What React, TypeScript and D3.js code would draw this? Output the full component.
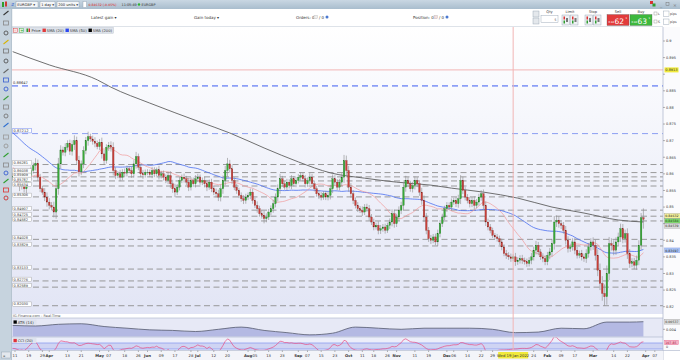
import React from 'react';
import * as d3 from 'd3';

// EUR/GBP daily closes, one array per month
const mar21 = [0.8592,0.8585,0.8575,0.8562,0.8570,0.8555,0.8578,0.8595,0.8610,0.8625,0.8632,0.8590,0.8555,0.8545,0.8530,0.8515];
const apr21 = [0.8505,0.8500,0.8485,0.8555,0.8630,0.8672,0.8665,0.8680,0.8692,0.8668,0.8688,0.8700,0.8640,0.8606,0.8630,0.8670,0.8700,0.8712,0.8705,0.8698,0.8692,0.8682];
const may21 = [0.8695,0.8660,0.8640,0.8680,0.8685,0.8680,0.8610,0.8595,0.8600,0.8590,0.8605,0.8602,0.8615,0.8610,0.8600,0.8630,0.8652,0.8620,0.8600,0.8597,0.8605];
const jun21 = [0.8605,0.8598,0.8610,0.8600,0.8612,0.8595,0.8600,0.8590,0.8580,0.8595,0.8570,0.8555,0.8545,0.8560,0.8580,0.8590,0.8585,0.8575,0.8560,0.8580,0.8570,0.8585];
const jul21 = [0.8590,0.8575,0.8580,0.8570,0.8560,0.8575,0.8555,0.8545,0.8540,0.8530,0.8555,0.8580,0.8610,0.8630,0.8615,0.8580,0.8560,0.8550,0.8535,0.8525,0.8520,0.8530];
const aug21 = [0.8535,0.8545,0.8520,0.8505,0.8495,0.8480,0.8475,0.8465,0.8470,0.8485,0.8495,0.8510,0.8530,0.8555,0.8585,0.8570,0.8560,0.8575,0.8565,0.8585,0.8570,0.8580];
const sep21 = [0.8590,0.8595,0.8585,0.8570,0.8580,0.8590,0.8570,0.8555,0.8540,0.8535,0.8530,0.8540,0.8530,0.8535,0.8555,0.8585,0.8575,0.8560,0.8575,0.8590,0.8640,0.8610];
const oct21 = [0.8560,0.8540,0.8520,0.8505,0.8495,0.8490,0.8485,0.8500,0.8495,0.8470,0.8455,0.8440,0.8445,0.8430,0.8435,0.8440,0.8430,0.8445,0.8455,0.8480,0.8450];
const nov21 = [0.8470,0.8490,0.8505,0.8560,0.8580,0.8570,0.8555,0.8565,0.8580,0.8570,0.8545,0.8520,0.8470,0.8430,0.8405,0.8400,0.8410,0.8395,0.8420,0.8450,0.8470,0.8495];
const dec21 = [0.8505,0.8500,0.8515,0.8520,0.8510,0.8525,0.8580,0.8550,0.8530,0.8520,0.8510,0.8520,0.8505,0.8515,0.8530,0.8540,0.8505,0.8455,0.8440,0.8430,0.8415,0.8410,0.8405];
const jan22 = [0.8395,0.8380,0.8360,0.8355,0.8350,0.8345,0.8350,0.8335,0.8340,0.8345,0.8340,0.8335,0.8330,0.8340,0.8350,0.8370,0.8385,0.8365,0.8350,0.8345,0.8335];
const feb22 = [0.8355,0.8365,0.8390,0.8455,0.8460,0.8450,0.8445,0.8430,0.8400,0.8375,0.8380,0.8395,0.8370,0.8355,0.8360,0.8350,0.8345,0.8360,0.8380,0.8395];
const mar22 = [0.8385,0.8355,0.8310,0.8270,0.8240,0.8230,0.8300,0.8390,0.8385,0.8370,0.8395,0.8410,0.8435,0.8405,0.8420,0.8360,0.8330,0.8335,0.8325,0.8340,0.8385,0.8468,0.8463];

// wick length in pips per candle
const wMar21 = [10,12,8,14,9,11,13,10,12,9,15,11,10,8,12,14];
const wApr21 = [12,10,16,20,18,14,10,12,9,11,13,16,12,14,10,13,11,15,9,10,12,8];
const wMay21 = [10,14,12,9,11,13,15,10,8,12,9,11,10,8,12,11,14,9,10,12,8];
const wJun21 = [9,8,11,10,7,12,9,10,8,11,13,12,15,9,10,8,11,9,12,10,9,11];
const wJul21 = [10,8,9,11,12,8,10,9,11,12,13,15,14,18,12,11,9,10,8,9,11,10];
const wAug21 = [9,11,10,8,12,9,10,14,11,9,10,12,11,13,15,9,8,10,9,11,8,10];
const wSep21 = [9,10,8,11,9,12,10,8,9,11,10,8,9,10,12,13,11,9,10,12,17,15];
const wOct21 = [14,12,11,9,10,8,12,9,10,11,9,10,8,12,11,9,10,8,11,13,12];
const wNov21 = [10,12,11,16,14,10,9,11,12,10,11,13,15,12,10,11,9,10,12,11,10,9];
const wDec21 = [10,9,11,8,10,12,16,11,10,9,11,10,12,9,10,11,13,12,10,9,8,7,9];
const wJan22 = [9,10,8,11,9,10,8,12,9,10,11,8,10,9,12,11,13,10,9,11,10];
const wFeb22 = [10,12,14,18,15,12,11,10,13,12,10,11,12,10,9,11,10,13,12,11];
const wMar22 = [14,16,18,20,22,27,24,20,16,15,14,13,15,14,12,16,13,11,12,14,15,14,28];

// closes before the visible window (Dec 2020 - Mar 9 2021), only feed the moving averages
const preCloses = [0.8900,0.8890,0.8880,
  0.8890,0.8900,0.8895,0.8870,0.8880,0.8860,0.8840,0.8830,0.8820,0.8810,0.8815,0.8805,0.8795,0.8800,0.8790,0.8790,0.8775,0.8750,0.8740,0.8765,
  0.8720,0.8700,0.8710,0.8690,0.8695,0.8700,0.8710,0.8690,0.8665,0.8670,0.8650,0.8660,0.8645,0.8630,0.8640,0.8610,0.8595,0.8585,0.8590,0.8620,
  0.8615,0.8610,0.8605,0.8600,0.8610,0.8595,0.8590];

// SMA(200) read at candle positions
const sma200At = [0,16,37,43,60,82,95,110,125,139,154,168,183,192,206,221,236,250,265,276];
const sma200 = [0.8968,0.8928,0.8883,0.8861,0.8813,0.8756,0.8723,0.8678,0.8636,0.8603,0.8587,0.8575,0.8566,0.8557,0.8545,0.8527,0.8500,0.8482,0.8461,0.8455];

// ATR(14) read at candle positions
const atrAt = [0,10,20,30,40,50,60,70,80,90,100,110,120,130,140,150,160,170,180,190,200,210,220,230,240,250,260,270,276];
const atr = [0.0047,0.0046,0.0049,0.0050,0.0045,0.0042,0.0039,0.0038,0.0036,0.0040,0.0044,0.0038,0.0034,0.0030,0.0033,0.0044,0.0042,0.0040,0.0042,0.0042,0.0042,0.0040,0.0034,0.0035,0.0042,0.0041,0.0053,0.0053,0.00537];

// drawn support/resistance levels
const grayLevels = [0.86281,0.86038,0.85909,0.85787,0.85634,0.85306,0.84907,0.84725,0.84582,0.84028,0.83829,0.83133,0.82776,0.82589,0.82030];
const blueLevel = 0.88647;
const lightBlueLevel = 0.87212;

const priceTicks = [0.82,0.825,0.83,0.835,0.84,0.845,0.85,0.855,0.86,0.865,0.87,0.875,0.88,0.885,0.89,0.895,0.9];
const tickDates = ['2021-03-11','2021-03-19','2021-03-29','2021-04-01','2021-04-13','2021-04-21','2021-05-03','2021-05-07','2021-05-18','2021-05-26','2021-06-01','2021-06-09','2021-06-17','2021-06-28','2021-07-01','2021-07-12','2021-07-20','2021-08-02','2021-08-05','2021-08-13','2021-08-23','2021-09-01','2021-09-07','2021-09-15','2021-09-23','2021-10-01','2021-10-11','2021-10-18','2021-10-26','2021-11-01','2021-11-11','2021-11-19','2021-12-01','2021-12-06','2021-12-14','2021-12-22','2021-12-29','2022-01-24','2022-02-01','2022-02-09','2022-02-17','2022-03-01','2022-03-14','2022-03-22','2022-04-01','2022-04-07'];

const crosshair = { index: 219, label: 'Wed 19 Jan 2022', price: 0.8913 };
const lastBoxes = [
  { v: 0.84632, fill: '#f4f09a', text: '#222' },
  { v: 0.84584, fill: '#7fd46e', text: '#1d4d12' },
  { v: 0.84539, fill: '#d9d9d9', text: '#333' },
];
const sma50Box = 0.83697;
const atrLast = '0.00537';
const cciLast = '107.85';

const FONT = 'DejaVu Sans, Verdana, sans-serif';

const App = () => {
  const closes = [...mar21, ...apr21, ...may21, ...jun21, ...jul21, ...aug21, ...sep21, ...oct21, ...nov21, ...dec21, ...jan22, ...feb22, ...mar22];
  const wicks = [...wMar21, ...wApr21, ...wMay21, ...wJun21, ...wJul21, ...wAug21, ...wSep21, ...wOct21, ...wNov21, ...wDec21, ...wJan22, ...wFeb22, ...wMar22];
  const N = closes.length;

  const candles = closes.map((c, i) => {
    const o = i === 0 ? preCloses[preCloses.length - 1] : closes[i - 1];
    const w = (wicks[i] ?? 10) / 10000;
    return { i, o, c, h: Math.max(o, c) + w, l: Math.min(o, c) - w };
  });

  const dates = d3.timeDay.range(new Date(2021, 2, 10), new Date(2022, 3, 12)).filter(d => d.getDay() !== 0 && d.getDay() !== 6);
  const fmtKey = d3.timeFormat('%Y-%m-%d');
  const idxOf = new Map(dates.map((d, i) => [fmtKey(d), i]));

  const pane = { left: 12, right: 663, top: 27, bottom: 314 };
  const x = d3.scaleLinear().domain([0, N - 1]).range([12.7, 643.4]);
  const y = d3.scaleLinear().domain([0.82, 0.9]).range([306.7, 41]);
  const yAtr = d3.scaleLinear().domain([0.004, 0.00537]).range([329.3, 321.7]);
  const yCci = d3.scaleLinear().domain([-100, 100]).range([349, 343]);

  const series = [...preCloses, ...closes];
  const P = preCloses.length;
  const sma = (n: number) => closes.map((_, i) => d3.mean(series.slice(P + i - n + 1, P + i + 1)) as number);
  const sma20 = sma(20);
  const sma50 = sma(50);

  const tp = [...preCloses, ...candles.map(d => (d.h + d.l + d.c) / 3)];
  const cci = candles.map((_, i) => {
    const win = tp.slice(P + i - 19, P + i + 1);
    const m = d3.mean(win) as number;
    const md = d3.mean(win, v => Math.abs(v - m)) as number;
    return (tp[P + i] - m) / (0.015 * md);
  });

  const line = d3.line<number>().x((_, i) => x(i)).y(v => y(v));
  const sma200Line = d3.line<number>().curve(d3.curveMonotoneX).x((_, k) => x(sma200At[k])).y(v => y(v));
  const atrArea = d3.area<number>().curve(d3.curveMonotoneX).x((_, k) => x(atrAt[k])).y0(336.5).y1(v => yAtr(v));
  const atrLine = d3.line<number>().curve(d3.curveMonotoneX).x((_, k) => x(atrAt[k])).y(v => yAtr(v));
  const cciLine = d3.line<number>().x((_, i) => x(i)).y(v => yCci(v));

  const fmtTick = d3.format('.3~f');
  const monthFmt = d3.timeFormat('%b');
  const dayFmt = d3.timeFormat('%d');

  // spread the last-value boxes on the price axis so they do not overlap
  const meanY = d3.mean(lastBoxes, b => y(b.v)) as number;
  const boxH = 5;
  const boxCenters = [y(crosshair.price), y(sma50Box), ...lastBoxes.map((_, k) => meanY + (k - 1) * boxH)];
  const visibleTicks = priceTicks.filter(v => boxCenters.every(c => Math.abs(y(v) - c) > 4.5));

  const toolIcons = [
    { y: 13, c: '#333' }, { y: 23, c: '#888' }, { y: 33, c: '#555' }, { y: 42, c: '#d9b300' }, { y: 51, c: '#777' },
    { y: 61, c: '#555' }, { y: 71, c: '#666' }, { y: 80, c: '#3a5fd0' }, { y: 89, c: '#3a5fd0' }, { y: 98, c: '#3a9a3a' },
    { y: 107, c: '#888' }, { y: 116, c: '#777' }, { y: 125, c: '#2f6fd0' }, { y: 137, c: '#999' }, { y: 146, c: '#999' },
    { y: 155, c: '#2e9e2e' }, { y: 165, c: '#888' }, { y: 173, c: '#3a5fd0' }, { y: 181, c: '#2e9e2e' }, { y: 190, c: '#d33' }, { y: 198, c: '#c33' },
  ];

  return (
    <svg width={680} height={360} style={{ position: 'fixed', left: 0, top: 0, background: '#fff' }} fontFamily={FONT}>
      <defs>
        <linearGradient id="bg" x1="0" y1="0" x2="0" y2="1">
          <stop offset="0" stopColor="#ffffff" />
          <stop offset="1" stopColor="#e2e5f5" />
        </linearGradient>
        <linearGradient id="bar" x1="0" y1="0" x2="0" y2="1">
          <stop offset="0" stopColor="#c9d7e3" />
          <stop offset="1" stopColor="#a9bdcd" />
        </linearGradient>
        <clipPath id="mainClip"><rect x={pane.left} y={pane.top} width={pane.right - pane.left} height={pane.bottom - pane.top} /></clipPath>
        <clipPath id="cciClip"><rect x={pane.left} y={337.5} width={pane.right - pane.left} height={13} /></clipPath>
      </defs>

      {/* top toolbar */}
      <rect x={0} y={0} width={680} height={9} fill="url(#bar)" />
      <rect x={2} y={2} width={2} height={5} fill="#2e9e2e" />
      <rect x={5} y={1.5} width={2} height={5} fill="#cc3b35" />
      <text x={11} y={6.3} fontSize={4} fill="#3a5fd0">⇵</text>
      {[{ x: 16, w: 22, t: 'EURGBP ▾' }, { x: 40, w: 15, t: '1 day ▾' }, { x: 57, w: 22, t: '200 units ▾' }].map(b => (
        <g key={b.t}>
          <rect x={b.x} y={1.5} width={b.w} height={6} fill="#f4f6f8" stroke="#8a9bab" strokeWidth={0.4} />
          <text x={b.x + 1.2} y={6} fontSize={3.6} fill="#222">{b.t}</text>
        </g>
      ))}
      <rect x={83} y={1.5} width={3.5} height={6} fill="#fff" stroke="#8a9bab" strokeWidth={0.4} />
      <text x={88.5} y={6} fontSize={3.2} fill="#d22">0.84632 (-0.05%)</text>
      <text x={121.5} y={6} fontSize={3.4} fill="#333">11:05:49</text>
      <circle cx={139} cy={4.5} r={1.2} fill="#2db52d" />
      <text x={141.5} y={6} fontSize={3.4} fill="#333">EURGBP</text>
      <rect x={650} y={1} width={3} height={3} fill="#d33" />
      <rect x={652.5} y={3.5} width={3} height={3} fill="#2e9e2e" />
      <text x={660} y={6.5} fontSize={4.5} fill="#777">_</text>
      <rect x={666} y={2.5} width={3} height={3} fill="none" stroke="#777" strokeWidth={0.5} />
      <text x={673} y={6.5} fontSize={4.5} fill="#777">×</text>

      {/* account row */}
      <rect x={12} y={9} width={668} height={18} fill="#fff" />
      <line x1={12} x2={663} y1={26.5} y2={26.5} stroke="#c8d0da" strokeWidth={0.6} />
      <text x={91} y={18.5} fontSize={4} fill="#333">Latest gain ▾</text>
      <text x={194} y={18.5} fontSize={4} fill="#333">Gain today ▾</text>
      <text x={296} y={18.5} fontSize={4} fill="#333">Orders: 0</text>
      <rect x={314} y={15.3} width={3.5} height={3.5} fill="#eee" stroke="#aaa" strokeWidth={0.3} />
      <text x={319} y={18.5} fontSize={4} fill="#333">/ 0</text>
      <circle cx={327} cy={17} r={1.5} fill="#4a78d0" />
      <text x={413} y={18.5} fontSize={4} fill="#333">Position: 0</text>
      <rect x={434} y={15.3} width={3.5} height={3.5} fill="#f2dede" stroke="#aaa" strokeWidth={0.3} />
      <text x={439} y={18.5} fontSize={4} fill="#333">/ 0</text>
      <circle cx={447} cy={17} r={1.5} fill="#4a78d0" />

      {/* deal ticket */}
      <rect x={533} y={11} width={6} height={6} fill="#e4e8ec" stroke="#8a9bab" strokeWidth={0.4} />
      <rect x={533} y={18} width={6} height={6} fill="#e4e8ec" stroke="#8a9bab" strokeWidth={0.4} />
      <text x={549.5} y={13} fontSize={3.6} fill="#333" textAnchor="middle">Qty</text>
      <rect x={541} y={15.5} width={17} height={7} fill="#fff" stroke="#8a9bab" strokeWidth={0.4} />
      <text x={556.5} y={20.5} fontSize={3} fill="#333" textAnchor="end">5</text>
      {[{ cx: 570, t: 'Limit' }, { cx: 593, t: 'Stop' }].map(g => (
        <g key={g.t}>
          <text x={g.cx} y={12.5} fontSize={3.6} fill="#333" textAnchor="middle">{g.t}</text>
          {[-8, 0.5].map(dx => (
            <g key={dx}>
              <rect x={g.cx + dx} y={15} width={7.5} height={10} fill="#eef1f4" stroke="#8a9bab" strokeWidth={0.4} />
              <rect x={g.cx + dx + 1.5} y={16.5} width={1.5} height={3} fill="#d33" />
              <rect x={g.cx + dx + 1.5} y={20.5} width={1.5} height={3} fill="#2e9e2e" />
              <rect x={g.cx + dx + 4} y={18} width={2} height={4} fill="#777" />
            </g>
          ))}
        </g>
      ))}
      {[{ x: 607, t: 'Sell', fill: '#e23b3b', big: '62' }, { x: 630, t: 'Buy', fill: '#3db83d', big: '63' }].map(b => (
        <g key={b.t}>
          <text x={b.x + 11} y={12.5} fontSize={3.6} fill="#333" textAnchor="middle">{b.t}</text>
          <rect x={b.x} y={14.5} width={22} height={11} fill={b.fill} stroke="#555" strokeWidth={0.3} />
          <text x={b.x + 1.5} y={23} fontSize={2.6} fill="#fff">0.84</text>
          <text x={b.x + 7.5} y={24} fontSize={7.5} fill="#fff">{b.big}</text>
          <text x={b.x + 18.5} y={18.5} fontSize={2.6} fill="#fff">1</text>
        </g>
      ))}
      {[{ y: 12, t: 'L' }, { y: 20, t: 'S' }].map(r => (
        <g key={r.t}>
          <rect x={654} y={r.y} width={3} height={3} fill="#fff" stroke="#888" strokeWidth={0.4} />
          <text x={658} y={r.y + 2.8} fontSize={3.2} fill="#333">{r.t}</text>
          <rect x={663.5} y={r.y - 1} width={5.5} height={5.5} fill="#fff" stroke="#8a9bab" strokeWidth={0.4} />
          <text x={670} y={r.y + 2.8} fontSize={3.2} fill="#333">pips</text>
        </g>
      ))}

      {/* left drawing toolbar */}
      <rect x={0} y={9} width={12} height={351} fill="#c6d3de" />
      <line x1={11.8} x2={11.8} y1={9} y2={360} stroke="#98a9b8" strokeWidth={0.5} />
      {toolIcons.map((t, k) => (
        <g key={k}>
          {k % 3 === 0 && <line x1={3.5} x2={8.5} y1={t.y + 2} y2={t.y - 2} stroke={t.c} strokeWidth={1.1} />}
          {k % 3 === 1 && <rect x={3.5} y={t.y - 2} width={5} height={4} fill="none" stroke={t.c} strokeWidth={0.8} />}
          {k % 3 === 2 && <circle cx={6} cy={t.y} r={2} fill="none" stroke={t.c} strokeWidth={0.9} />}
        </g>
      ))}

      {/* main price pane */}
      <rect x={pane.left} y={pane.top} width={pane.right - pane.left} height={pane.bottom - pane.top} fill="url(#bg)" />
      <g clipPath="url(#mainClip)">
        <line x1={pane.left} x2={pane.right} y1={y(crosshair.price)} y2={y(crosshair.price)} stroke="#f2b5b5" strokeWidth={1} />
        <line x1={pane.left} x2={pane.right} y1={y(blueLevel)} y2={y(blueLevel)} stroke="#3d5cf2" strokeWidth={1} strokeDasharray="6 4" />
        <line x1={pane.left} x2={pane.right} y1={y(lightBlueLevel)} y2={y(lightBlueLevel)} stroke="#8d9ff2" strokeWidth={1} strokeDasharray="6 4" />
        {grayLevels.map(v => (
          <line key={v} x1={33} x2={pane.right} y1={y(v)} y2={y(v)} stroke="#8f8f8f" strokeWidth={0.9} strokeDasharray="6 3.5" />
        ))}
        <path d={sma200Line(sma200) ?? ''} fill="none" stroke="#606060" strokeWidth={0.9} />
        <path d={line(sma50) ?? ''} fill="none" stroke="#4a6ff0" strokeWidth={0.8} />
        <path d={line(sma20) ?? ''} fill="none" stroke="#f19a9a" strokeWidth={0.7} />
        {candles.map(d => {
          const up = d.c >= d.o;
          const cx = x(d.i);
          const top = y(Math.max(d.o, d.c));
          const bot = y(Math.min(d.o, d.c));
          return (
            <g key={d.i}>
              <line x1={cx} x2={cx} y1={y(d.h)} y2={y(d.l)} stroke="#8a8a8a" strokeWidth={0.6} />
              <rect x={cx - 0.8} y={top} width={1.6} height={Math.max(0.6, bot - top)} fill={up ? '#38a838' : '#c9403a'} stroke={up ? '#1f6b1f' : '#7c221e'} strokeWidth={0.25} />
            </g>
          );
        })}
      </g>

      {/* level labels */}
      <text x={13} y={y(blueLevel) - 1.8} fontSize={3.6} fill="#333">{blueLevel.toFixed(5)}</text>
      <rect x={12.8} y={y(lightBlueLevel) - 5.3} width={18.5} height={4.6} fill="#fff" stroke="#6c84f0" strokeWidth={0.5} />
      <text x={13.6} y={y(lightBlueLevel) - 1.8} fontSize={3.6} fill="#333">{lightBlueLevel.toFixed(5)}</text>
      {grayLevels.map(v => (
        <g key={v}>
          <rect x={12.8} y={y(v) - 3.8} width={18.5} height={4.4} fill="#fff" stroke="#9a9a9a" strokeWidth={0.4} />
          <text x={13.6} y={y(v) - 0.4} fontSize={3.5} fill="#333">{v.toFixed(5)}</text>
        </g>
      ))}

      {/* legend */}
      <rect x={12.5} y={27.3} width={101} height={6} fill="#dde2ea" stroke="#b8c2cc" strokeWidth={0.4} />
      <rect x={13.5} y={28.3} width={4} height={4} fill="#fbe3e3" stroke="#d33" strokeWidth={0.4} />
      <text x={14.5} y={31.6} fontSize={4} fill="#d33">-</text>
      <rect x={19.5} y={28.3} width={4} height={4} fill="#e3f6e3" stroke="#2e9e2e" strokeWidth={0.4} />
      <text x={20.2} y={31.8} fontSize={4} fill="#2e9e2e">+</text>
      <rect x={26.5} y={28.5} width={1.5} height={3.5} fill="#2e9e2e" />
      <rect x={28.5} y={28.5} width={1.5} height={3.5} fill="#cc3b35" />
      {[{ x: 31.5, c: null, t: 'Price' }, { x: 42.5, c: '#e23b3b', t: 'SMA (20)' }, { x: 65.5, c: '#2d49f0', t: 'SMA (50)' }, { x: 88.5, c: '#000', t: 'SMA (200)' }].map(g => (
        <g key={g.t}>
          {g.c && <rect x={g.x} y={28.6} width={3.4} height={3.4} fill={g.c} />}
          <text x={g.c ? g.x + 4.3 : g.x} y={31.8} fontSize={3.7} fill="#333">{g.t}</text>
        </g>
      ))}
      <text x={13} y={317} fontSize={3.5} fill="#555">IG-Finance.com - Real-Time</text>

      {/* ATR pane */}
      <rect x={pane.left} y={318} width={pane.right - pane.left} height={19} fill="#e7e9f6" />
      <line x1={pane.left} x2={680} y1={318} y2={318} stroke="#a9b3c9" strokeWidth={0.6} />
      <path d={atrArea(atr) ?? ''} fill="#b4b9e3" />
      <path d={atrLine(atr) ?? ''} fill="none" stroke="#565a6e" strokeWidth={0.8} />
      <rect x={12.5} y={319.5} width={24} height={5} fill="#dfe3ee" />
      <rect x={13.5} y={320.4} width={3.3} height={3.3} fill="#000" />
      <text x={17.8} y={323.5} fontSize={3.7} fill="#333">ATR (14)</text>

      {/* CCI pane */}
      <rect x={pane.left} y={337} width={pane.right - pane.left} height={13.5} fill="#eceefa" />
      <line x1={pane.left} x2={680} y1={337} y2={337} stroke="#a9b3c9" strokeWidth={0.6} />
      <rect x={pane.left} y={yCci(100)} width={pane.right - pane.left} height={yCci(-100) - yCci(100)} fill="#cfd4f3" />
      <line x1={pane.left} x2={pane.right} y1={yCci(100)} y2={yCci(100)} stroke="#8394ee" strokeWidth={0.7} />
      <line x1={pane.left} x2={pane.right} y1={yCci(-100)} y2={yCci(-100)} stroke="#8394ee" strokeWidth={0.7} />
      <g clipPath="url(#cciClip)">
        <path d={cciLine(cci) ?? ''} fill="none" stroke="#ea4c82" strokeWidth={0.7} />
      </g>
      <rect x={12.5} y={338} width={24} height={5} fill="#dfe3ee" />
      <rect x={13.5} y={338.9} width={3.3} height={3.3} fill="#e0303a" />
      <text x={17.8} y={342} fontSize={3.7} fill="#333">CCI (20)</text>

      {/* crosshair vertical */}
      <line x1={x(crosshair.index)} x2={x(crosshair.index)} y1={pane.top} y2={350.5} stroke="#f2b5b5" strokeWidth={1} />

      {/* right price axis */}
      <rect x={pane.right} y={pane.top} width={680 - pane.right} height={324} fill="#fbfbfd" />
      <line x1={pane.right} x2={pane.right} y1={pane.top} y2={360} stroke="#a9b3c9" strokeWidth={0.7} />
      {priceTicks.map(v => (
        <line key={v} x1={pane.right} x2={pane.right + 2} y1={y(v)} y2={y(v)} stroke="#666" strokeWidth={0.5} />
      ))}
      {visibleTicks.map(v => (
        <text key={v} x={pane.right + 3} y={y(v) + 1.3} fontSize={3.5} fill="#333">{fmtTick(v)}</text>
      ))}
      <rect x={pane.right + 1.5} y={y(crosshair.price) - 2.5} width={14} height={5} fill="#f1ea3c" />
      <text x={pane.right + 2.3} y={y(crosshair.price) + 1.3} fontSize={3.5} fill="#333">{crosshair.price}</text>
      {lastBoxes.map((b, k) => {
        const cy = meanY + (k - 1) * boxH;
        return (
          <g key={b.v}>
            <rect x={pane.right + 1.5} y={cy - 2.4} width={16} height={4.8} fill={b.fill} stroke="#888" strokeWidth={0.3} />
            <text x={pane.right + 2.3} y={cy + 1.2} fontSize={3.2} fill={b.text}>{b.v.toFixed(5)}</text>
          </g>
        );
      })}
      <rect x={pane.right + 1.5} y={y(sma50Box) - 2.4} width={16} height={4.8} fill="#a9c2f4" stroke="#6b86d8" strokeWidth={0.3} />
      <text x={pane.right + 2.3} y={y(sma50Box) + 1.2} fontSize={3.2} fill="#222">{sma50Box.toFixed(5)}</text>

      <rect x={pane.right + 1.5} y={yAtr(0.00537) - 2.4} width={16} height={4.8} fill="#dcdcdc" stroke="#888" strokeWidth={0.3} />
      <text x={pane.right + 2.3} y={yAtr(0.00537) + 1.2} fontSize={3.2} fill="#333">{atrLast}</text>
      <line x1={pane.right} x2={pane.right + 2} y1={yAtr(0.004)} y2={yAtr(0.004)} stroke="#666" strokeWidth={0.5} />
      <text x={pane.right + 3} y={yAtr(0.004) + 1.3} fontSize={3.5} fill="#333">0.004</text>
      <rect x={pane.right + 1.5} y={yCci(107.85) - 2.6} width={14} height={4.6} fill="#f6b3c6" stroke="#e04a78" strokeWidth={0.3} />
      <text x={pane.right + 2.3} y={yCci(107.85) + 1.1} fontSize={3.2} fill="#a0153f">{cciLast}</text>
      <text x={pane.right + 3} y={yCci(0) + 2.2} fontSize={3.3} fill="#333">0</text>

      {/* time axis */}
      <rect x={pane.left} y={350.5} width={pane.right - pane.left} height={9.5} fill="#f3f4f9" />
      <line x1={pane.left} x2={680} y1={350.5} y2={350.5} stroke="#a9b3c9" strokeWidth={0.6} />
      <rect x={1.5} y={352} width={9} height={6} fill="#e3e8ee" stroke="#8a9bab" strokeWidth={0.4} />
      <text x={3} y={356.5} fontSize={2.8} fill="#333">≡</text>
      {tickDates.map(s => {
        const i = idxOf.get(s);
        if (i === undefined) return null;
        const d = dates[i];
        const isMonth = i > 0 && dates[i - 1].getMonth() !== d.getMonth();
        return (
          <g key={s}>
            <line x1={x(i)} x2={x(i)} y1={350.5} y2={352} stroke="#666" strokeWidth={0.5} />
            <text x={x(i)} y={356.8} fontSize={3.8} textAnchor="middle" fill="#333" fontWeight={isMonth ? 'bold' : 'normal'}>
              {isMonth ? monthFmt(d) : dayFmt(d)}
            </text>
          </g>
        );
      })}
      <rect x={x(crosshair.index) - 15} y={352} width={30} height={6.5} fill="#f1ea3c" />
      <text x={x(crosshair.index)} y={356.8} fontSize={3.8} textAnchor="middle" fill="#333">{crosshair.label}</text>
    </svg>
  );
};

export default App;
